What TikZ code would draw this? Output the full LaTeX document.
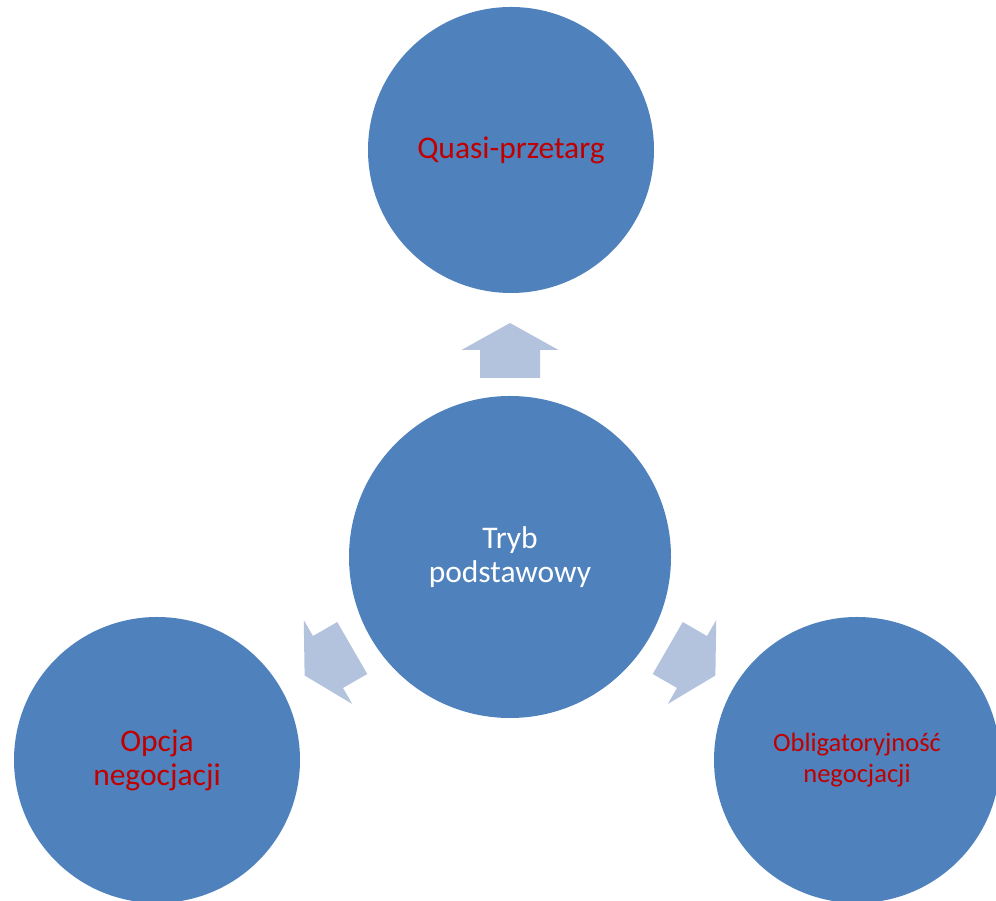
\documentclass[tikz,border=0pt]{standalone}
\usepackage{fontspec}
\setmainfont{Carlito}
\definecolor{circblue}{HTML}{4F81BD}
\definecolor{arrblue}{HTML}{B3C3DE}
\definecolor{txtred}{HTML}{C00000}
\tikzset{
  circ/.style={circle, fill=circblue, draw=none, inner sep=0pt, align=center},
  smallc/.style={circ, minimum size=286pt},
  bigc/.style={circ, minimum size=322pt},
  bigtxt/.style={font=\fontsize{31.5}{34}\selectfont},
  midtxt/.style={font=\fontsize{26.5}{31}\selectfont},
  fatarrow/.style={fill=arrblue, draw=none}
}
\begin{document}
\begin{tikzpicture}[x=1pt,y=1pt]
\useasboundingbox (0,0) rectangle (996,901);
\clip (0,0) rectangle (996,901);
\node[smallc, bigtxt, text=txtred] (quasi) at (511,751) {Quasi-przetarg};
\node[bigc, bigtxt, text=white] (tryb) at (510,344) {Tryb\\podstawowy};
\node[smallc, bigtxt, text=txtred] (opcja) at (157,141) {Opcja\\negocjacji};
\node[smallc, midtxt, text=txtred] (oblig) at (857,141) {Obligatoryjność\\negocjacji};
\foreach \cx/\cy/\ang in {510/551/90, 328/239/210, 692/239/-30}{
  \fill[fatarrow, shift={(\cx,\cy)}, rotate=\ang]
    (-28,-30) -- (0,-30) -- (0,-48.5) -- (27,0) -- (0,48.5) -- (0,30) -- (-28,30) -- cycle;
}
\end{tikzpicture}
\end{document}
